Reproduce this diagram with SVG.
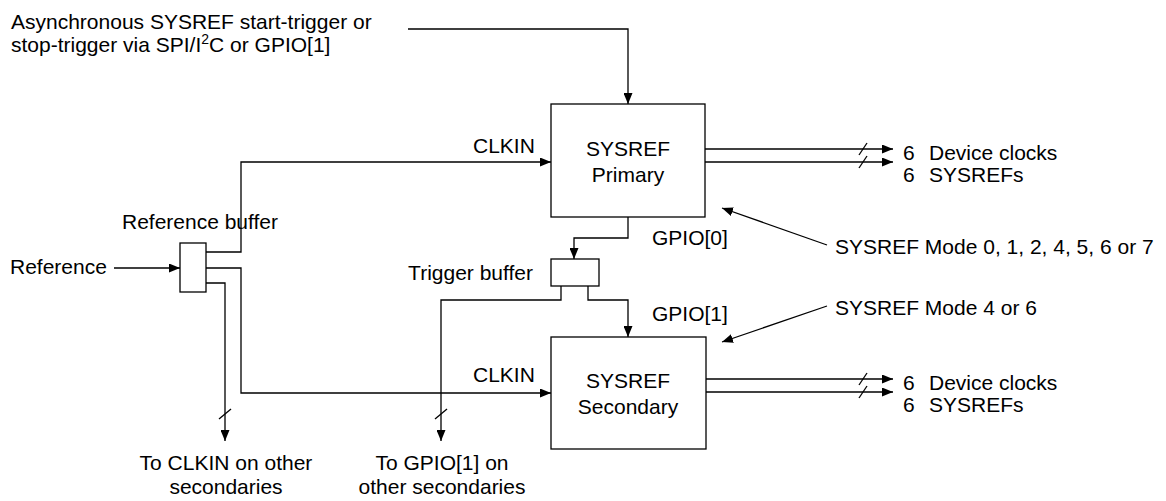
<svg xmlns="http://www.w3.org/2000/svg" width="1166" height="501" viewBox="0 0 1166 501">
<style>
text{font-family:"Liberation Sans",Arial,sans-serif;font-size:21px;fill:#000}
.c{text-anchor:middle}
.e{text-anchor:end}
.w{fill:none;stroke:#000;stroke-width:1.3}
.a{marker-end:url(#ah)}
.box{fill:#fff;stroke:#000;stroke-width:1.3}
</style>
<defs>
<marker id="ah" markerUnits="userSpaceOnUse" markerWidth="11" markerHeight="9" refX="11" refY="4.5" orient="auto">
<path d="M0,0 L11,4.5 L0,9 z" fill="#000"/>
</marker>
</defs>
<g id="connectors">
<polyline class="w a" points="408,29 628,29 628,104"/>
<polyline class="w a" points="114,268 180,268"/>
<polyline class="w a" points="206,252 241,252 241,162 551,162"/>
<polyline class="w a" points="206,268 241,268 241,393 551,393"/>
<polyline class="w a" points="206,283 225,283 225,441"/>
<polyline class="w a" points="628,217 628,238 574,238 574,259"/>
<polyline class="w a" points="561,286 561,300 441,300 441,441"/>
<polyline class="w a" points="588,286 588,300 628,300 628,337"/>
<line class="w a" x1="705" y1="149" x2="893" y2="149"/>
<line class="w a" x1="705" y1="162" x2="893" y2="162"/>
<line class="w a" x1="705" y1="379" x2="893" y2="379"/>
<line class="w a" x1="705" y1="392" x2="893" y2="392"/>
<line class="w a" x1="827" y1="245" x2="722" y2="208"/>
<line class="w a" x1="827" y1="306" x2="722" y2="342"/>
<g class="w">
<line x1="859" y1="155" x2="867" y2="143"/>
<line x1="859" y1="168" x2="867" y2="156"/>
<line x1="859" y1="385" x2="867" y2="373"/>
<line x1="859" y1="398" x2="867" y2="386"/>
<line x1="219" y1="419" x2="231" y2="409"/>
<line x1="435" y1="419" x2="447" y2="409"/>
</g>
</g>
<g id="ref-buffer"><rect class="box" x="180" y="243" width="26" height="49"/></g>
<g id="trigger-buffer"><rect class="box" x="551" y="259" width="48" height="27"/></g>
<g id="primary">
<rect class="box" x="551" y="104" width="154" height="113"/>
<text class="c" x="628" y="156">SYSREF</text>
<text class="c" x="628" y="182">Primary</text>
</g>
<g id="secondary">
<rect class="box" x="551" y="337" width="155" height="112"/>
<text class="c" x="628" y="388">SYSREF</text>
<text class="c" x="628" y="414">Secondary</text>
</g>
<g id="labels">
<text x="11" y="29">Asynchronous SYSREF start-trigger or</text>
<text x="11" y="52">stop-trigger via SPI/I<tspan dy="-8" font-size="14">2</tspan><tspan dy="8">C or GPIO[1]</tspan></text>
<text x="10" y="274">Reference</text>
<text class="c" x="200" y="229">Reference buffer</text>
<text class="e" x="533" y="280">Trigger buffer</text>
<text x="473" y="153">CLKIN</text>
<text x="473" y="382">CLKIN</text>
<text x="652" y="245">GPIO[0]</text>
<text x="652" y="321">GPIO[1]</text>
<text x="903" y="160">6</text><text x="929" y="160">Device clocks</text>
<text x="903" y="182">6</text><text x="929" y="182">SYSREFs</text>
<text x="903" y="390">6</text><text x="929" y="390">Device clocks</text>
<text x="903" y="412">6</text><text x="929" y="412">SYSREFs</text>
<text x="835" y="254">SYSREF Mode 0, 1, 2, 4, 5, 6 or 7</text>
<text x="835" y="315">SYSREF Mode 4 or 6</text>
<text class="c" x="226" y="470">To CLKIN on other</text>
<text class="c" x="226" y="494">secondaries</text>
<text class="c" x="442" y="470">To GPIO[1] on</text>
<text class="c" x="442" y="494">other secondaries</text>
</g>
</svg>
